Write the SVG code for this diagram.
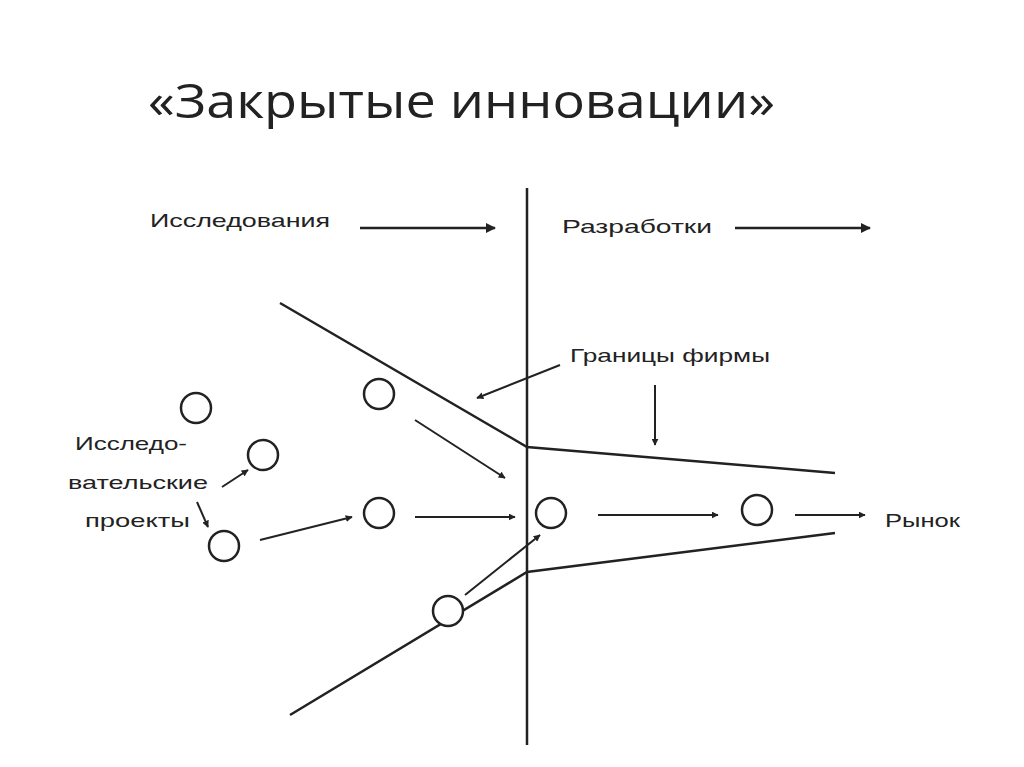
<svg xmlns="http://www.w3.org/2000/svg" width="1024" height="767" viewBox="0 0 1024 767">
<style>
text{font-family:"Liberation Sans",Arial,sans-serif;fill:#222}
.t{font-size:19px}
.ln{stroke:#222;stroke-width:2.5;fill:none}
.ar{stroke:#222;stroke-width:2;fill:none;marker-end:url(#a)}
circle{stroke:#222;stroke-width:2.5;fill:#fff}
</style>
<defs><marker id="a" viewBox="0 0 10 10" refX="9" refY="5" markerWidth="7" markerHeight="7" orient="auto" markerUnits="userSpaceOnUse"><path d="M0,0L10,5L0,10z" fill="#222"/></marker>
<marker id="b" viewBox="0 0 10 10" refX="9" refY="5" markerWidth="12" markerHeight="10" orient="auto" markerUnits="userSpaceOnUse"><path d="M0,0L10,5L0,10z" fill="#222"/></marker></defs>
<rect width="1024" height="767" fill="#fff"/>
<text x="148" y="118" font-size="48" textLength="627" lengthAdjust="spacingAndGlyphs" style="font-family:'Open Sans','Liberation Sans',sans-serif">«Закрытые инновации»</text>
<g id="connectors">
<line class="ln" x1="527" y1="188" x2="527" y2="745"/>
<polyline class="ln" points="280,303 527,447 835,473"/>
<polyline class="ln" points="290,715 527,572 835,533"/>
<line class="ln" x1="360" y1="228" x2="495" y2="228" style="marker-end:url(#b)"/>
<line class="ln" x1="735" y1="228" x2="870" y2="228" style="marker-end:url(#b)"/>
<line class="ar" x1="415" y1="420" x2="505" y2="478"/>
<line class="ar" x1="415" y1="517" x2="515" y2="517"/>
<line class="ar" x1="598" y1="515" x2="718" y2="515"/>
<line class="ar" x1="795" y1="515" x2="865" y2="515"/>
<line class="ar" x1="465" y1="595" x2="540" y2="535"/>
<line class="ar" x1="260" y1="540" x2="352" y2="517"/>
<line class="ar" x1="222" y1="487" x2="248" y2="470"/>
<line class="ar" x1="197" y1="502" x2="208" y2="527"/>
<line class="ar" x1="560" y1="365" x2="477" y2="398"/>
<line class="ar" x1="655" y1="385" x2="655" y2="445"/>
</g>
<g id="n1"><circle cx="196" cy="408" r="15"/></g>
<g id="n2"><circle cx="263" cy="455" r="15"/></g>
<g id="n3"><circle cx="224" cy="546" r="15"/></g>
<g id="n4"><circle cx="379" cy="394" r="15"/></g>
<g id="n5"><circle cx="379" cy="513" r="15"/></g>
<g id="n6"><circle cx="551" cy="513" r="15"/></g>
<g id="n7"><circle cx="757" cy="510" r="15"/></g>
<g id="n8"><circle cx="448" cy="611" r="15"/></g>
<g id="labels">
<text class="t" x="150" y="227" textLength="180" lengthAdjust="spacingAndGlyphs">Исследования</text>
<text class="t" x="562" y="233" textLength="150" lengthAdjust="spacingAndGlyphs">Разработки</text>
<text class="t" x="570" y="362" textLength="200" lengthAdjust="spacingAndGlyphs">Границы фирмы</text>
<text class="t" x="885" y="527" textLength="75" lengthAdjust="spacingAndGlyphs">Рынок</text>
<text class="t" x="75" y="450" textLength="112" lengthAdjust="spacingAndGlyphs">Исследо-</text>
<text class="t" x="68" y="489" textLength="140" lengthAdjust="spacingAndGlyphs">вательские</text>
<text class="t" x="85" y="527" textLength="105" lengthAdjust="spacingAndGlyphs">проекты</text>
</g>
</svg>
